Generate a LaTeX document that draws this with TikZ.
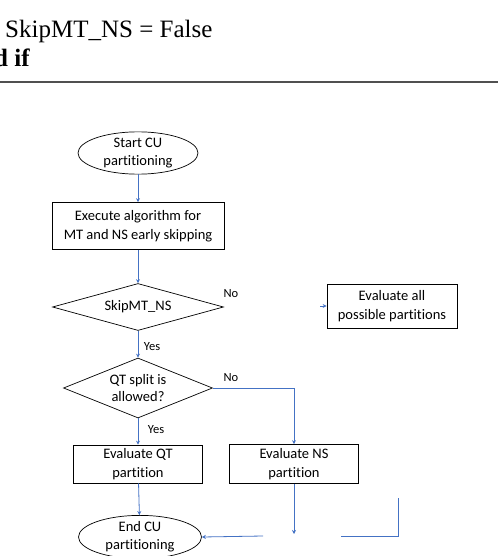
\documentclass[tikz,border=0pt]{standalone}
\usepackage{fontspec}
\setmainfont{Carlito}[Ligatures=NoCommon]
\newfontfamily\algfont{Liberation Serif}
\usetikzlibrary{shapes.geometric,arrows.meta}
\definecolor{linkblue}{RGB}{68,114,196}
\definecolor{rulegray}{RGB}{80,80,80}
\tikzset{
  box/.style={draw, line width=0.7pt, rectangle, align=center, inner sep=0pt, font=\fontsize{14.5}{18.5}\selectfont},
  term/.style={draw, line width=0.7pt, ellipse, align=center, inner sep=0pt, font=\fontsize{14.5}{18}\selectfont},
  decide/.style={draw, line width=0.7pt, diamond, align=center, inner sep=0pt, font=\fontsize{14.5}{17}\selectfont},
  flow/.style={draw=linkblue, line width=0.8pt, -{Stealth[length=4pt,width=4pt]}},
  plain/.style={draw=linkblue, line width=0.8pt},
  tag/.style={font=\fontsize{12.5}{15}\selectfont}
}
\begin{document}
\begin{tikzpicture}[x=1pt,y=-1pt]
\useasboundingbox (0,0) rectangle (498,556);
\clip (0,0) rectangle (498,556);
% tail of the algorithm above
\node[anchor=base west, inner sep=0pt, font=\algfont\fontsize{25}{30}\selectfont] (skipline) at (5,38) {SkipMT\_NS = False};
\node[anchor=base west, inner sep=0pt, font=\algfont\bfseries\fontsize{25}{30}\selectfont] (endif) at (-31,67) {end if};
\draw[rulegray, line width=1.3pt] (0,82) -- (498,82);
% flowchart
\node[term, minimum width=120, minimum height=37] (start) at (138,153) {Start CU\\partitioning};
\node[box, minimum width=172, minimum height=47] (exec) at (138,226) {Execute algorithm for\\MT and NS early skipping};
\node[decide, aspect=3.6, minimum width=171, minimum height=47] (skip) at (138,307) {SkipMT\_NS};
\node[box, minimum width=130, minimum height=44] (evalall) at (392,306) {Evaluate all\\possible partitions};
\node[decide, aspect=2.5, minimum width=149, minimum height=60] (qt) at (138,388) {QT split is\\allowed?};
\node[box, minimum width=129, minimum height=38] (qtpart) at (138,464) {Evaluate QT\\partition};
\node[box, minimum width=129, minimum height=39] (nspart) at (294,464) {Evaluate NS\\partition};
\node[term, minimum width=123, minimum height=38] (endcu) at (140,537) {End CU\\partitioning};
\node[tag] (noA) at (231,294) {No};
\node[tag] (yesA) at (152,347) {Yes};
\node[tag] (noB) at (231,378) {No};
\node[tag] (yesB) at (156,430) {Yes};
\coordinate (stubA) at (320,306);
\coordinate (nsend) at (294,534);
\coordinate (gapL) at (263,536);
\coordinate (gapR) at (341,536);
\coordinate (backup) at (398,498);
\draw[flow] (start) -- (exec);
\draw[flow] (exec) -- (skip);
\draw[flow] (skip) -- (qt);
\draw[flow] (stubA) -- (evalall.west);
\draw[flow] (qt.east) -| (nspart.north);
\draw[flow] (qt) -- (qtpart);
\draw[flow] (qtpart) -- (endcu);
\draw[flow] (nspart) -- (nsend);
\draw[flow] (gapL) -- (endcu.east);
\draw[plain] (gapR) -| (backup);
\end{tikzpicture}
\end{document}
